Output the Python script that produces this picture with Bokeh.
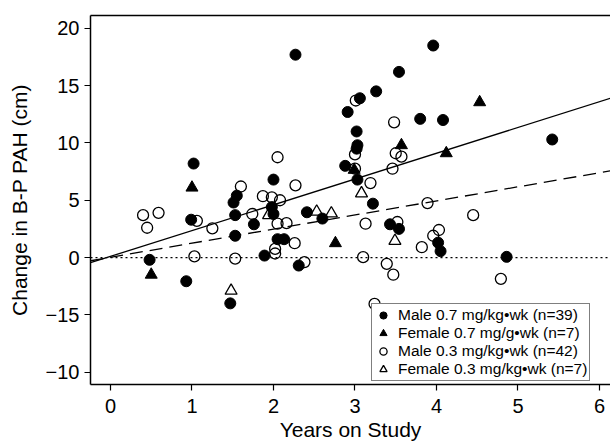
from bokeh.plotting import figure
from bokeh.models import (Range1d, FixedTicker, LinearAxis, Span, Legend, LegendItem)
from bokeh.embed import file_html
from bokeh.resources import INLINE

# ---- data ----
male07_x = [1.02, 0.99, 0.48, 0.93, 1.47, 2.27, 2.0, 1.55, 1.51, 1.98, 2.0, 1.53, 1.76, 2.41, 2.6,
            1.53, 2.05, 2.13, 1.89, 2.31, 3.54, 3.26, 3.06, 2.91, 3.8, 3.02, 3.03, 3.02, 2.88, 3.03,
            3.22, 3.43, 3.54, 3.96, 4.08, 5.42, 4.02, 4.05, 4.86]
male07_y = [8.2, 3.3, -0.2, -2.07, -4.0, 17.7, 6.8, 5.4, 4.8, 4.4, 3.8, 3.7, 2.9, 3.95, 3.4,
            1.9, 1.6, 1.6, 0.17, -0.7, 16.2, 14.5, 13.9, 12.7, 12.1, 11.0, 9.8, 9.5, 8.0, 6.8,
            4.7, 2.9, 2.5, 18.5, 12.0, 10.3, 1.3, 0.55, 0.06]

female07_x = [1.0, 0.5, 2.76, 2.99, 3.57, 4.53, 4.12]
female07_y = [6.1, -1.5, 1.25, 7.65, 9.8, 13.55, 9.1]

male03_x = [0.40, 0.59, 0.45, 1.06, 1.25, 1.03, 2.05, 2.27, 1.6, 1.87, 1.98, 2.08, 1.74, 2.05,
            2.16, 1.53, 2.26, 2.02, 2.02, 2.38, 3.13, 3.1, 3.39, 3.47, 3.24, 3.01, 3.48, 3.0,
            3.5, 3.57, 3.0, 3.46, 3.19, 3.89, 3.52, 3.82, 4.03, 3.96, 4.45, 4.79]
male03_y = [3.7, 3.9, 2.6, 3.2, 2.55, 0.1, 8.75, 6.3, 6.2, 5.35, 5.25, 5.0, 3.8, 2.95,
            3.0, -0.1, 1.25, 0.75, 0.35, -0.4, 2.95, 0.03, -0.55, -1.5, -4.05, 13.7, 11.8, 9.0,
            9.1, 8.8, 7.75, 7.75, 6.5, 4.75, 3.1, 0.9, 2.4, 1.9, 3.7, -1.86]

female03_x = [1.48, 1.94, 2.53, 2.71, 3.08, 3.49]
female03_y = [-2.9, 3.7, 4.0, 3.85, 5.6, 1.45]

# regression fits (intercept, slope)
fit_07 = (0.1, 2.25)
fit_03 = (0.02, 1.23)

legend_labels = ["Male 0.7 mg/kg\u2022wk (n=39)",
                 "Female 0.7 mg/g\u2022wk (n=7)",
                 "Male 0.3 mg/kg\u2022wk (n=42)",
                 "Female 0.3 mg/kg\u2022wk (n=7)"]

y_ticks = [-10, -5, 0, 5, 10, 15, 20]
y_tick_labels = ["\u221210", "\u221215", "0", "5", "10", "15", "20"]
x_ticks = [0, 1, 2, 3, 4, 5, 6]

XMIN, XMAX = -0.245, 6.135
YMIN, YMAX = -11.08, 21.12

FONT = "Liberation Sans"

p = figure(width=610, height=444, output_backend="svg", toolbar_location=None,
           x_range=Range1d(XMIN, XMAX), y_range=Range1d(YMIN, YMAX),
           min_border_left=90, min_border_right=0, min_border_top=15, min_border_bottom=60)
p.background_fill_color = "white"
p.border_fill_color = "white"
p.outline_line_color = None
p.xgrid.visible = False
p.ygrid.visible = False

# top border as an empty axis
top = LinearAxis(ticker=FixedTicker(ticks=[]), major_label_text_font_size="0px",
                 major_tick_out=0, major_tick_in=0, minor_tick_out=0, minor_tick_in=0,
                 axis_line_color="black", axis_line_width=1.5)
p.add_layout(top, "above")

xa = p.below[0]
xa.ticker = FixedTicker(ticks=x_ticks)
xa.axis_label = "Years on Study"
ya = p.left[0]
ya.ticker = FixedTicker(ticks=y_ticks)
ya.axis_label = "Change in B-P PAH (cm)"
ya.major_label_overrides = {t: s for t, s in zip(y_ticks, y_tick_labels)}

for ax in (xa, ya):
    ax.axis_line_width = 1.5
    ax.axis_line_color = "black"
    ax.major_tick_line_color = "black"
    ax.major_tick_line_width = 1.2
    ax.major_tick_in = 0
    ax.major_tick_out = 6
    ax.minor_tick_line_color = None
    ax.major_label_text_font = FONT
    ax.major_label_text_font_size = "20px"
    ax.major_label_text_color = "black"
    ax.axis_label_text_font = FONT
    ax.axis_label_text_font_size = "21px"
    ax.axis_label_text_font_style = "normal"
    ax.axis_label_text_color = "black"
xa.major_label_standoff = 8
xa.axis_label_standoff = 2
ya.major_label_standoff = 5
ya.axis_label_standoff = 12

# reference line at zero
p.add_layout(Span(location=0, dimension="width", line_color="black",
                  line_width=1.2, line_dash="2 3"))

# fitted lines
lx = [XMIN, XMAX]
p.line(lx, [fit_07[0] + fit_07[1] * v for v in lx], line_color="black", line_width=1.3)
p.line(lx, [fit_03[0] + fit_03[1] * v for v in lx], line_color="black", line_width=1.3,
       line_dash="13 7")

r1 = p.scatter(male07_x, male07_y, marker="circle", size=11, fill_color="black",
               line_color="black")
r2 = p.scatter(female07_x, female07_y, marker="triangle", size=12, fill_color="black",
               line_color="black")
r3 = p.scatter(male03_x, male03_y, marker="circle", size=11, fill_color=None,
               line_color="black", line_width=1.3)
r4 = p.scatter(female03_x, female03_y, marker="triangle", size=12, fill_color=None,
               line_color="black", line_width=1.3)

legend = Legend(items=[LegendItem(label=legend_labels[0], renderers=[r1]),
                       LegendItem(label=legend_labels[1], renderers=[r2]),
                       LegendItem(label=legend_labels[2], renderers=[r3]),
                       LegendItem(label=legend_labels[3], renderers=[r4])],
                location=(281, 3))
legend.label_text_font = FONT
legend.label_text_font_size = "15.5px"
legend.label_text_color = "black"
legend.label_height = 14
legend.glyph_height = 18
legend.glyph_width = 18
legend.label_standoff = 6
legend.spacing = 0
legend.padding = 2
legend.margin = 0
legend.border_line_color = "black"
legend.border_line_width = 1.5
legend.background_fill_alpha = 1.0
p.add_layout(legend)

html = file_html(p, INLINE)
open("out.html", "w").write(html)
